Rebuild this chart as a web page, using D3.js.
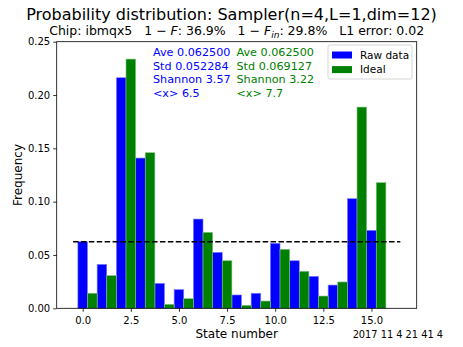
<!DOCTYPE html>
<html>
<head>
<meta charset="utf-8">
<script src="https://cdn.jsdelivr.net/npm/d3@7"></script>
<style>
  body { margin: 0; background: #fff; }
  svg text { font-family: "DejaVu Sans", sans-serif; white-space: pre; }
</style>
</head>
<body>
<div id="chart"></div>
<script>
const states = d3.range(16);
const rawData = [0.0624, 0.0412, 0.2162, 0.1409, 0.0234, 0.0175, 0.0837, 0.0525,
  0.0125, 0.0141, 0.0609, 0.0446, 0.0300, 0.0218, 0.1028, 0.0731];
const idealData = [0.0141, 0.0306, 0.2337, 0.1459, 0.0037, 0.0090, 0.0712, 0.0446,
  0.0028, 0.0068, 0.0553, 0.0347, 0.0115, 0.0247, 0.1887, 0.1178];
const average = 0.0625;
const xTicks = [0, 2.5, 5, 7.5, 10, 12.5, 15];
const yTicks = [0, 0.05, 0.10, 0.15, 0.20, 0.25];
const rawStats = ['Ave 0.062500', 'Std 0.052284', 'Shannon 3.57', '<x> 6.5'];
const idealStats = ['Ave 0.062500', 'Std 0.069127', 'Shannon 3.22', '<x> 7.7'];

const width = 463, height = 347;
const margin = {left: 56.7, right: 46.3, top: 41.7, bottom: 38.7};
const blue = '#0000ff', green = '#008000';

const svg = d3.select('#chart').append('svg').attr('width', width).attr('height', height);

const x = d3.scaleLinear().domain([-1.35, 17.35]).range([margin.left, width - margin.right]);
const y = d3.scaleLinear().domain([0, 0.25]).range([height - margin.bottom, margin.top]);
const barW = x(0.5) - x(0);

// bars
svg.append('g').selectAll('rect')
	.data(rawData)
	.enter()
	.append('rect')
	.attr('x', (d, i) => x(states[i] - 0.25))
	.attr('y', d => y(d))
	.attr('width', barW)
	.attr('height', d => y(0) - y(d))
	.attr('fill', blue)
	.attr('stroke', '#8080ff')
	.attr('stroke-width', 0.6);

svg.append('g').selectAll('rect')
	.data(idealData)
	.enter()
	.append('rect')
	.attr('x', (d, i) => x(states[i] + 0.25))
	.attr('y', d => y(d))
	.attr('width', barW)
	.attr('height', d => y(0) - y(d))
	.attr('fill', green)
	.attr('stroke', '#80c080')
	.attr('stroke-width', 0.6);

// average line
svg.append('line')
	.attr('x1', x(-0.5)).attr('x2', x(16.5))
	.attr('y1', y(average)).attr('y2', y(average))
	.attr('stroke', '#000').attr('stroke-width', 1.5)
	.attr('stroke-dasharray', '5.5,2.4');

// frame
svg.append('rect')
	.attr('x', margin.left).attr('y', margin.top)
	.attr('width', width - margin.left - margin.right)
	.attr('height', height - margin.top - margin.bottom)
	.attr('fill', 'none').attr('stroke', '#000').attr('stroke-width', 0.8);

// axes
const xAxis = svg.append('g')
	.attr('transform', `translate(0,${height - margin.bottom})`)
	.call(d3.axisBottom(x).tickValues(xTicks).tickFormat(d3.format('.1f')).tickSizeInner(3.5).tickSizeOuter(0));
const yAxis = svg.append('g')
	.attr('transform', `translate(${margin.left},0)`)
	.call(d3.axisLeft(y).tickValues(yTicks).tickFormat(d3.format('.2f')).tickSizeInner(3.5).tickSizeOuter(0));
[xAxis, yAxis].forEach(a => {
	a.select('.domain').remove();
	a.selectAll('line').attr('stroke', '#000').attr('stroke-width', 0.8);
	a.selectAll('text').attr('font-size', 10).attr('fill', '#000')
		.style('font-family', '"DejaVu Sans", sans-serif');
});
xAxis.selectAll('text').attr('dy', '0.9em');

// axis labels
svg.append('text')
	.attr('x', (margin.left + width - margin.right) / 2).attr('y', 338)
	.attr('text-anchor', 'middle').attr('font-size', 12)
	.text('State number');
svg.append('text')
	.attr('transform', `translate(22,${(margin.top + height - margin.bottom) / 2}) rotate(-90)`)
	.attr('text-anchor', 'middle').attr('font-size', 12)
	.text('Frequency');

// titles
svg.append('text')
	.attr('x', width / 2).attr('y', 19.5)
	.attr('text-anchor', 'middle').attr('font-size', 16)
	.text('Probability distribution: Sampler(n=4,L=1,dim=12)');
const sub = svg.append('text')
	.attr('x', (margin.left + width - margin.right) / 2).attr('y', 35)
	.attr('text-anchor', 'middle').attr('font-size', 12.5);
sub.append('tspan').text('Chip: ibmqx5   1 \u2212 ');
sub.append('tspan').attr('font-style', 'italic').text('F');
sub.append('tspan').text(': 36.9%   1 \u2212 ');
sub.append('tspan').attr('font-style', 'italic').text('F');
sub.append('tspan').attr('font-style', 'italic').attr('font-size', 9).attr('dy', 2.5).text('in');
sub.append('tspan').attr('dy', -2.5).text(': 29.8%   L1 error: 0.02');

// stats text
const statsGroups = [[rawStats, blue, 153], [idealStats, green, 236.5]];
statsGroups.forEach(([lines, color, tx]) => {
	svg.append('g').selectAll('text')
		.data(lines)
		.enter()
		.append('text')
		.attr('x', tx)
		.attr('y', (d, i) => 56 + i * 13.6)
		.attr('font-size', 11.2)
		.attr('fill', color)
		.text(d => d);
});

// legend
const legend = svg.append('g');
legend.append('rect')
	.attr('x', 328).attr('y', 45).attr('width', 84).attr('height', 34).attr('rx', 2)
	.attr('fill', '#fff').attr('fill-opacity', 0.8).attr('stroke', '#ccc').attr('stroke-width', 0.8);
[['Raw data', blue], ['Ideal', green]].forEach(([label, color], i) => {
	legend.append('rect')
		.attr('x', 332).attr('y', 51.5 + i * 14.6).attr('width', 20).attr('height', 7)
		.attr('fill', color);
	legend.append('text')
		.attr('x', 360).attr('y', 58.5 + i * 14.6)
		.attr('font-size', 10.5)
		.text(label);
});

// timestamp
svg.append('text')
	.attr('x', 443).attr('y', 338)
	.attr('text-anchor', 'end').attr('font-size', 9.8)
	.text('2017 11 4 21 41 4');
</script>
</body>
</html>
